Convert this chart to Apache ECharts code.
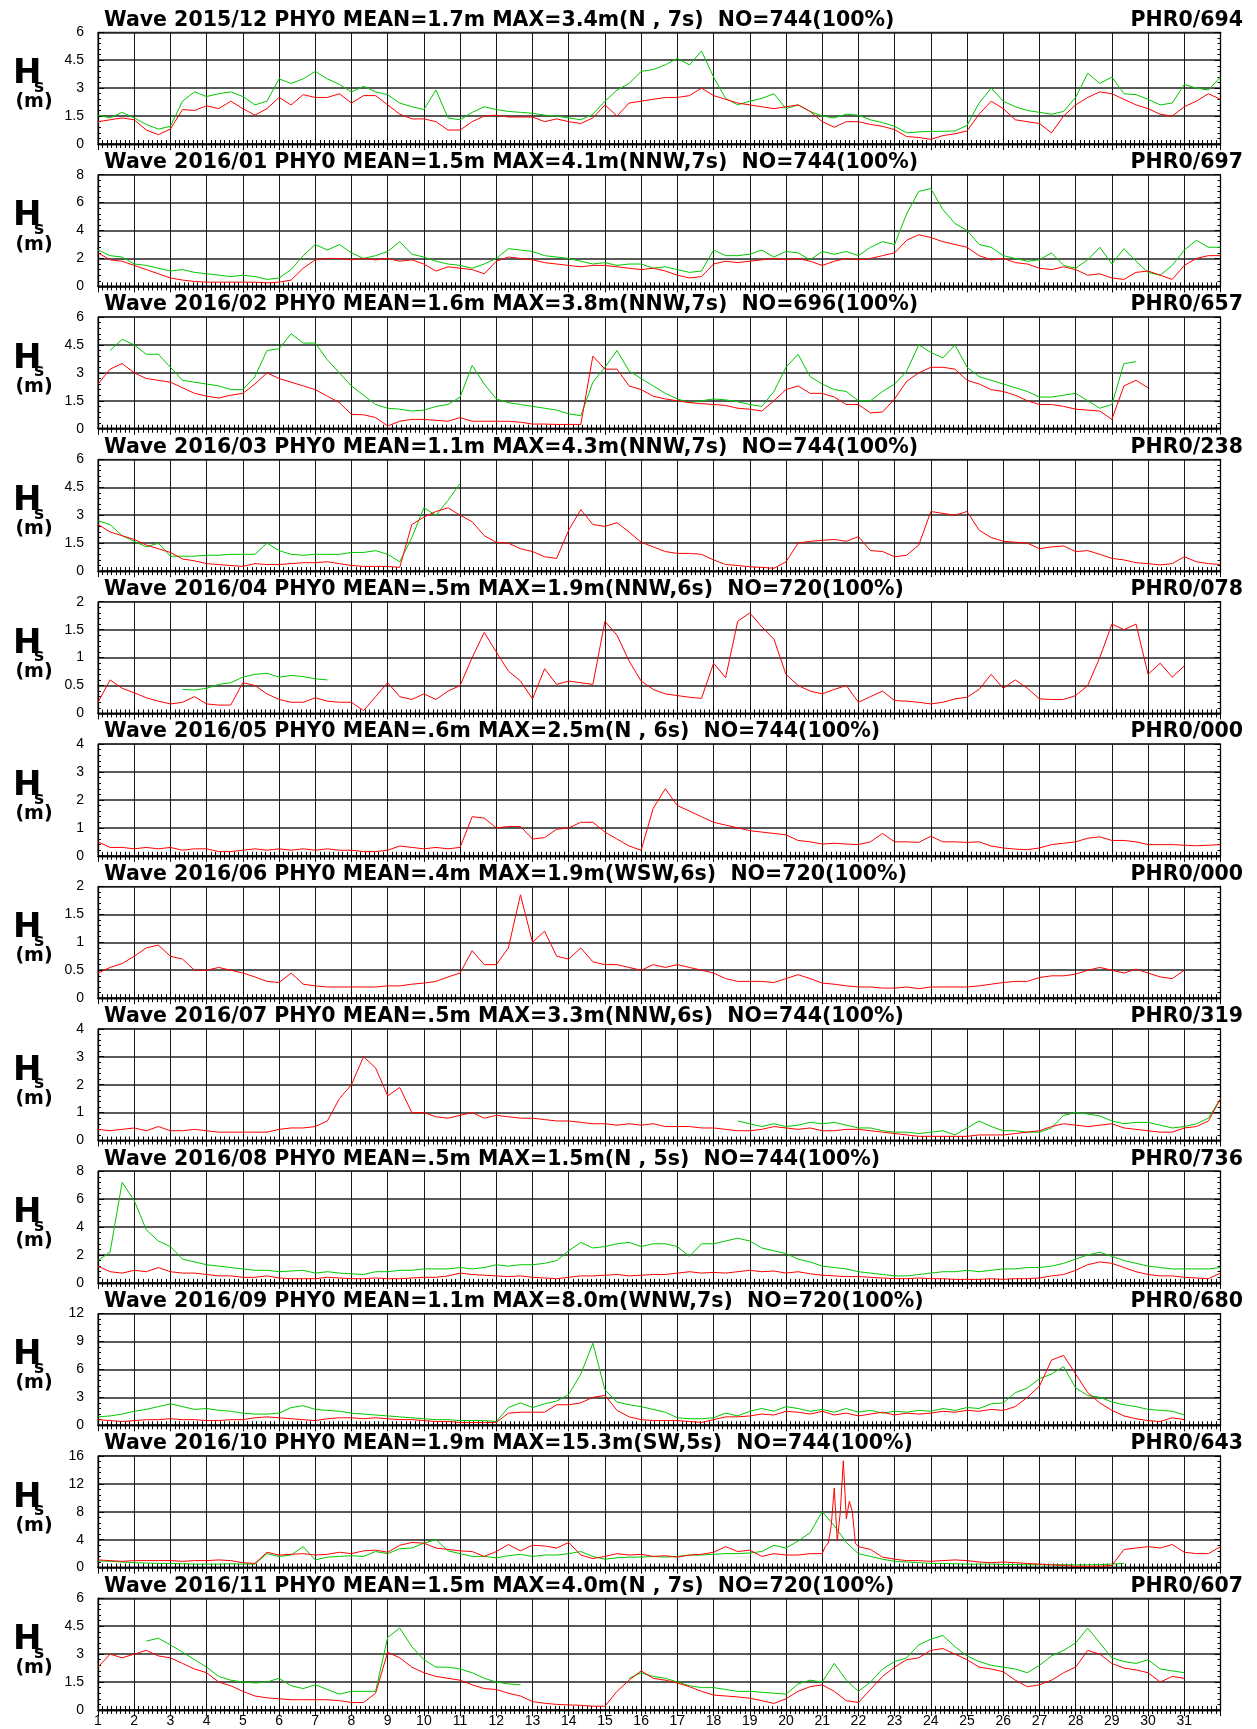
<!DOCTYPE html>
<html><head><meta charset="utf-8">
<script src="https://cdn.jsdelivr.net/npm/echarts@6/dist/echarts.min.js"></script>
<style>html,body{margin:0;padding:0;background:#fff}#c{width:1257px;height:1729px}</style>
</head><body><div id="c"></div>
<script>
// ---------- labels ----------
const titleTexts = [
 'Wave 2015/12 PHY0 MEAN=1.7m MAX=3.4m(N , 7s)  NO=744(100%)',
 'Wave 2016/01 PHY0 MEAN=1.5m MAX=4.1m(NNW,7s)  NO=744(100%)',
 'Wave 2016/02 PHY0 MEAN=1.6m MAX=3.8m(NNW,7s)  NO=696(100%)',
 'Wave 2016/03 PHY0 MEAN=1.1m MAX=4.3m(NNW,7s)  NO=744(100%)',
 'Wave 2016/04 PHY0 MEAN=.5m MAX=1.9m(NNW,6s)  NO=720(100%)',
 'Wave 2016/05 PHY0 MEAN=.6m MAX=2.5m(N , 6s)  NO=744(100%)',
 'Wave 2016/06 PHY0 MEAN=.4m MAX=1.9m(WSW,6s)  NO=720(100%)',
 'Wave 2016/07 PHY0 MEAN=.5m MAX=3.3m(NNW,6s)  NO=744(100%)',
 'Wave 2016/08 PHY0 MEAN=.5m MAX=1.5m(N , 5s)  NO=744(100%)',
 'Wave 2016/09 PHY0 MEAN=1.1m MAX=8.0m(WNW,7s)  NO=720(100%)',
 'Wave 2016/10 PHY0 MEAN=1.9m MAX=15.3m(SW,5s)  NO=744(100%)',
 'Wave 2016/11 PHY0 MEAN=1.5m MAX=4.0m(N , 7s)  NO=720(100%)'
];
const codeTexts = ['PHR0/694','PHR0/697','PHR0/657','PHR0/238','PHR0/078','PHR0/000','PHR0/000','PHR0/319','PHR0/736','PHR0/680','PHR0/643','PHR0/607'];
const yMax  = [6, 8, 6, 6, 2, 4, 2, 4, 8, 12, 16, 6];
const yStep = [1.5, 2, 1.5, 1.5, 0.5, 1, 0.5, 1, 2, 3, 4, 1.5];
const dayMin = 1, dayMax = 32;

// ---------- data: values every 8 hours, from day "start" ----------
const r1512 = [1.2,1.3,1.4, 1.3,0.75,0.5, 0.8,1.85,1.8, 2.05,1.9,2.3, 1.9,1.55,1.9,
 2.5,2.1,2.65, 2.5,2.5,2.7, 2.2,2.6,2.6, 2.1,1.6,1.35, 1.35,1.2,0.75,
 0.75,1.2,1.5, 1.55,1.45,1.45, 1.45,1.2,1.35, 1.2,1.1,1.4, 2.1,1.5,2.2,
 2.3,2.4,2.5, 2.5,2.6,3.0, 2.6,2.4,2.2, 2.1,2.0,1.9, 2.0,2.1,1.75,
 1.2,0.9,1.2, 1.2,1.05,0.95, 0.77,0.4,0.35, 0.25,0.45,0.55, 0.7,1.6,2.3,
 1.9,1.3,1.2, 1.1,0.6,1.5, 2.1,2.5,2.8, 2.7,2.4,2.1, 1.9,1.6,1.5,
 2.0,2.3,2.7, 2.4];
const g1512 = [1.55,1.4,1.7, 1.4,1.05,0.8, 0.95,2.3,2.8, 2.55,2.7,2.8, 2.55,2.1,2.3,
 3.5,3.25,3.5, 3.9,3.5,3.2, 2.8,3.1,2.8, 2.65,2.2,2.0, 1.85,2.9,1.4,
 1.3,1.7,2.0, 1.85,1.75,1.7, 1.65,1.55,1.5, 1.4,1.3,1.6, 2.3,2.9,3.25,
 3.9,4.0,4.25, 4.6,4.25,5.0, 3.6,2.45,2.1, 2.3,2.45,2.7, 1.9,2.1,1.75,
 1.5,1.4,1.6, 1.55,1.3,1.15, 0.95,0.6,0.65, 0.68,0.68,0.7, 1.0,2.2,3.0,
 2.3,2.0,1.8, 1.7,1.6,1.75, 2.5,3.8,3.25, 3.6,2.7,2.65, 2.4,2.1,2.2,
 3.2,3.0,2.9, 3.6];

const r1601 = [2.4,1.9,1.8, 1.5,1.2,0.9, 0.6,0.45,0.35, 0.3,0.3,0.3, 0.3,0.3,0.25,
 0.3,0.45,1.3, 1.9,2.0,2.0, 1.9,2.0,1.9, 2.0,1.8,1.9, 1.6,1.1,1.4,
 1.3,1.2,0.9, 1.8,2.1,2.0, 1.9,1.7,1.6, 1.5,1.4,1.5, 1.5,1.4,1.3,
 1.2,1.3,1.1, 0.8,0.6,0.7, 1.6,1.8,1.7, 1.8,1.9,2.0, 1.9,2.0,1.8,
 1.5,1.8,2.0, 1.9,2.0,2.2, 2.4,3.3,3.7, 3.5,3.2,3.0, 2.8,2.2,1.9,
 2.0,1.7,1.6, 1.3,1.2,1.4, 1.2,0.8,0.9, 0.6,0.5,1.0, 1.1,0.8,0.5,
 1.5,2.0,2.2, 2.2];
const g1601 = [2.6,2.2,2.1, 1.6,1.5,1.3, 1.1,1.2,1.0, 0.9,0.8,0.7, 0.8,0.7,0.5,
 0.6,1.2,2.2, 3.0,2.6,3.0, 2.4,2.0,2.2, 2.5,3.2,2.3, 2.1,1.8,1.6,
 1.5,1.3,1.6, 2.0,2.7,2.6, 2.5,2.2,2.1, 2.0,1.8,1.6, 1.7,1.5,1.6,
 1.6,1.3,1.4, 1.2,1.0,1.1, 2.6,2.2,2.2, 2.3,2.6,2.1, 2.5,2.4,1.9,
 2.5,2.3,2.5, 2.2,2.8,3.2, 3.0,5.2,6.8, 7.0,5.5,4.5, 4.0,3.0,2.8,
 2.2,2.0,1.8, 1.9,2.4,1.5, 1.3,1.9,2.8, 1.6,2.7,1.8, 1.0,0.8,1.5,
 2.6,3.3,2.8, 2.8];

const r1602 = [2.4,3.2,3.5, 3.0,2.7,2.6, 2.5,2.2,1.9, 1.75,1.65,1.8, 1.9,2.4,3.0,
 2.7,2.5,2.3, 2.1,1.75,1.4, 0.77,0.75,0.6, 0.15,0.4,0.5, 0.5,0.45,0.4,
 0.6,0.4,0.4, 0.4,0.4,0.35, 0.25,0.25,0.23, 0.23,0.23,3.9, 3.2,3.2,2.3,
 2.1,1.75,1.6, 1.5,1.4,1.35, 1.3,1.25,1.1, 1.05,0.95,1.5, 2.1,2.3,1.9,
 1.9,1.7,1.3, 1.3,0.85,0.9, 1.6,2.55,3.0, 3.3,3.3,3.2, 2.6,2.4,2.1,
 2.0,1.8,1.5, 1.3,1.3,1.2, 1.05,1.0,0.95, 0.5,2.3,2.6, 2.2];
const g1602 = [null,4.2,4.8, 4.5,4.0,4.0, 3.3,2.6,2.5, 2.4,2.3,2.1, 2.1,2.8,4.2,
 4.3,5.1,4.6, 4.6,3.7,3.0, 2.3,1.8,1.3, 1.1,1.05,0.95, 1.0,1.2,1.3,
 1.7,3.4,2.4, 1.6,1.4,1.3, 1.2,1.1,1.0, 0.8,0.7,2.5, 3.3,4.2,3.1,
 2.7,2.3,1.9, 1.6,1.4,1.5, 1.6,1.55,1.45, 1.3,1.2,2.0, 3.3,4.0,2.8,
 2.4,2.1,2.0, 1.5,1.5,2.0, 2.4,3.1,4.5, 4.1,3.8,4.5, 3.3,2.8,2.6,
 2.4,2.2,2.0, 1.7,1.7,1.8, 1.9,1.5,1.1, 1.3,3.5,3.6];

const r1603 = [2.5,2.1,1.9, 1.7,1.4,1.2, 1.0,0.65,0.55, 0.4,0.35,0.3, 0.25,0.4,0.35,
 0.35,0.4,0.45, 0.45,0.5,0.4, 0.3,0.25,0.25, 0.25,0.2,2.5, 2.9,3.2,3.4,
 3.0,2.65,1.9, 1.55,1.5,1.2, 1.05,0.77,0.68, 2.2,3.3,2.5, 2.4,2.6,2.1,
 1.55,1.3,1.05, 0.95,0.95,0.9, 0.6,0.35,0.3, 0.23,0.2,0.15, 0.5,1.5,1.6,
 1.65,1.7,1.6, 1.85,1.1,1.05, 0.77,0.85,1.4, 3.2,3.1,3.0, 3.2,2.2,1.8,
 1.6,1.55,1.5, 1.2,1.3,1.35, 1.05,1.1,0.9, 0.68,0.6,0.45, 0.4,0.33,0.4,
 0.77,0.5,0.4, 0.35];
const g1603 = [2.7,2.5,1.9, 1.6,1.3,1.5, 0.8,0.8,0.8, 0.85,0.85,0.9, 0.9,0.9,1.5,
 1.1,0.9,0.85, 0.9,0.9,0.9, 1.0,1.0,1.1, 0.9,0.5,1.8, 3.4,3.0,3.8,
 4.7];

const r1604 = [0.2,0.6,0.45, 0.37,0.28,0.22, 0.17,0.2,0.3, 0.17,0.15,0.15, 0.55,0.5,0.35,
 0.25,0.2,0.2, 0.28,0.22,0.2, 0.2,0.05,0.3, 0.55,0.3,0.25, 0.35,0.25,0.4,
 0.5,1.0,1.45, 1.1,0.76,0.58, 0.26,0.8,0.52, 0.58,0.55,0.52, 1.65,1.4,0.94,
 0.58,0.43,0.35, 0.32,0.29,0.27, 0.9,0.64,1.65, 1.8,1.55,1.33, 0.7,0.5,0.4,
 0.35,0.43,0.5, 0.2,0.3,0.4, 0.23,0.22,0.2, 0.17,0.2,0.26, 0.29,0.43,0.7,
 0.45,0.6,0.45, 0.26,0.25,0.25, 0.32,0.5,1.0, 1.6,1.5,1.6, 0.7,0.9,0.65,
 0.85];
const g1604 = [0.43,0.42, 0.45,0.52,0.55, 0.65,0.7,0.72, 0.65,0.68,0.66, 0.62,0.6];

const r1605 = [0.5,0.3,0.3, 0.25,0.3,0.25, 0.3,0.2,0.25, 0.25,0.15,0.15, 0.2,0.25,0.2,
 0.25,0.2,0.25, 0.2,0.25,0.2, 0.2,0.15,0.15, 0.2,0.35,0.3, 0.25,0.3,0.25,
 0.3,1.4,1.35, 1.0,1.05,1.05, 0.6,0.65,0.95, 1.0,1.2,1.2, 0.85,0.6,0.35,
 0.2,1.7,2.4, 1.8,1.6,1.4, 1.2,1.1,1.0, 0.9,0.85,0.8, 0.75,0.55,0.5,
 0.42,0.45,0.42, 0.4,0.5,0.8, 0.5,0.5,0.48, 0.7,0.5,0.5, 0.48,0.5,0.35,
 0.28,0.24,0.22, 0.28,0.4,0.45, 0.5,0.63,0.68, 0.55,0.55,0.5, 0.4,0.4,0.4,
 0.38,0.36,0.38, 0.4];

const r1606 = [0.45,0.55,0.62, 0.75,0.9,0.95, 0.75,0.7,0.5, 0.5,0.55,0.5, 0.45,0.38,0.3,
 0.28,0.45,0.25, 0.22,0.2,0.2, 0.2,0.2,0.2, 0.22,0.22,0.25, 0.27,0.3,0.38,
 0.45,0.85,0.6, 0.6,0.9,1.85, 1.0,1.2,0.75, 0.7,0.9,0.65, 0.6,0.6,0.55,
 0.5,0.6,0.55, 0.6,0.55,0.5, 0.45,0.35,0.3, 0.3,0.3,0.28, 0.35,0.42,0.35,
 0.27,0.25,0.22, 0.2,0.2,0.18, 0.18,0.2,0.17, 0.2,0.2,0.2, 0.2,0.22,0.25,
 0.28,0.3,0.3, 0.37,0.4,0.4, 0.43,0.5,0.55, 0.5,0.45,0.52, 0.45,0.38,0.35,
 0.5];

const r1607 = [0.4,0.35,0.4, 0.45,0.35,0.5, 0.35,0.35,0.4, 0.35,0.3,0.3, 0.3,0.3,0.3,
 0.4,0.45,0.45, 0.5,0.7,1.5, 2.0,3.0,2.6, 1.6,1.9,1.0, 1.0,0.85,0.8,
 0.9,1.0,0.8, 0.9,0.85,0.8, 0.8,0.75,0.7, 0.7,0.65,0.6, 0.6,0.55,0.6,
 0.55,0.6,0.5, 0.5,0.5,0.45, 0.45,0.4,0.35, 0.35,0.4,0.5, 0.45,0.4,0.45,
 0.35,0.35,0.4, 0.4,0.35,0.3, 0.25,0.2,0.15, 0.15,0.15,0.15, 0.15,0.2,0.2,
 0.2,0.25,0.3, 0.35,0.5,0.6, 0.55,0.5,0.55, 0.6,0.45,0.4, 0.35,0.3,0.3,
 0.45,0.5,0.7, 1.5];
const g1607 = [0.7, 0.6,0.5,0.6, 0.5,0.55,0.65, 0.6,0.65,0.55, 0.45,0.45,0.35, 0.3,0.3,0.25,
 0.3,0.35,0.2, 0.45,0.7,0.5, 0.35,0.35,0.3, 0.3,0.45,0.9, 1.0,0.95,0.88,
 0.7,0.6,0.65, 0.65,0.55,0.45, 0.5,0.6,0.8, 1.5];

const r1608 = [1.2,0.8,0.7, 0.9,0.8,1.1, 0.8,0.7,0.7, 0.6,0.5,0.5, 0.4,0.4,0.5,
 0.35,0.3,0.3, 0.3,0.4,0.35, 0.3,0.3,0.35, 0.3,0.3,0.35, 0.4,0.4,0.5,
 0.7,0.6,0.55, 0.5,0.45,0.5, 0.4,0.35,0.3, 0.4,0.5,0.5, 0.55,0.6,0.5,
 0.55,0.6,0.6, 0.7,0.8,0.7, 0.75,0.7,0.8, 0.9,0.8,0.85, 0.7,0.8,0.65,
 0.55,0.5,0.45, 0.45,0.4,0.35, 0.3,0.3,0.35, 0.3,0.3,0.25, 0.25,0.25,0.3,
 0.25,0.3,0.3, 0.35,0.5,0.6, 0.9,1.3,1.5, 1.4,1.1,0.8, 0.6,0.5,0.5,
 0.4,0.35,0.3, 0.7];
const g1608 = [1.6,2.2,7.2, 5.9,3.8,3.0, 2.6,1.7,1.5, 1.3,1.2,1.1, 1.0,0.9,0.9,
 0.8,0.85,0.9, 0.7,0.8,0.7, 0.65,0.6,0.8, 0.8,0.9,0.9, 1.0,1.0,1.0,
 1.1,1.0,1.1, 1.3,1.2,1.3, 1.3,1.4,1.6, 2.3,2.9,2.5, 2.6,2.8,2.9,
 2.6,2.8,2.8, 2.6,1.9,2.8, 2.8,3.0,3.2, 3.0,2.5,2.3, 2.1,1.7,1.5,
 1.2,1.1,1.0, 0.8,0.7,0.6, 0.5,0.5,0.6, 0.7,0.8,0.8, 0.9,0.8,0.9,
 1.0,1.0,1.1, 1.1,1.2,1.4, 1.7,2.0,2.2, 1.9,1.6,1.4, 1.2,1.1,1.0,
 1.0,1.0,1.0, 1.1];

const r1609 = [0.6,0.5,0.4, 0.5,0.6,0.6, 0.7,0.6,0.6, 0.5,0.5,0.6, 0.6,0.8,0.9,
 0.8,0.7,0.6, 0.5,0.7,0.8, 0.8,0.7,0.8, 0.7,0.6,0.6, 0.5,0.4,0.4,
 0.3,0.3,0.3, 0.3,1.3,1.4, 1.4,1.4,2.2, 2.2,2.4,3.0, 3.2,1.6,0.9,
 0.6,0.5,0.5, 0.5,0.4,0.3, 0.6,0.9,0.9, 1.0,1.2,1.1, 1.5,1.4,1.2,
 1.5,1.1,1.3, 1.0,1.2,1.4, 1.1,1.3,1.2, 1.3,1.5,1.4, 1.6,1.5,1.7,
 1.6,2.0,3.0, 4.2,7.0,7.5, 5.5,3.5,2.4, 1.6,1.0,0.7, 0.5,0.4,0.8,
 0.6];
const g1609 = [0.9,1.0,1.2, 1.5,1.7,2.0, 2.3,2.0,1.7, 1.8,1.6,1.5, 1.3,1.2,1.2,
 1.3,1.9,2.1, 1.7,1.6,1.5, 1.3,1.2,1.1, 1.0,0.9,0.8, 0.7,0.6,0.6,
 0.5,0.5,0.5, 0.4,1.9,2.4, 1.9,2.3,2.6, 3.3,5.5,8.8, 3.8,2.5,2.2,
 2.0,1.7,1.4, 0.8,0.7,0.7, 0.8,1.3,1.0, 1.5,1.8,1.5, 2.0,1.8,1.5,
 1.7,1.4,1.8, 1.4,1.6,1.3, 1.5,1.4,1.6, 1.5,1.8,1.6, 1.9,1.8,2.3,
 2.4,3.5,4.0, 5.0,5.5,6.3, 4.0,3.2,3.0, 2.5,2.2,2.0, 1.7,1.6,1.5,
 1.1];

const r1610 = [1.1,1.0,0.9, 1.0,1.0,1.0, 1.0,0.9,1.0, 1.0,1.1,1.0, 0.7,0.6,2.2,
 1.8,1.9,2.0, 1.8,1.9,2.2, 2.0,2.4,2.5, 2.2,3.2,3.6, 3.5,2.8,2.6,
 2.4,2.3,1.6, 2.3,3.3,2.4, 3.2,3.1,2.8, 3.6,1.8,1.3, 1.6,2.0,1.8,
 1.9,1.6,1.7, 1.5,1.8,1.9, 2.2,3.0,2.3, 2.5,1.6,2.0, 1.8,1.8,2.0,
 2.0,9.0,8.0, 3.0,2.6,1.5, 1.2,1.0,1.0, 0.9,1.0,1.1, 1.0,0.8,0.7,
 0.8,0.7,0.6, 0.5,0.4,0.3, 0.2,0.2,0.2, 0.3,2.6,2.8, 3.0,2.8,3.3,
 2.2,2.0,2.0, 3.0];
// 2-hourly detail of the storm on day 21
const r1610Peak = [2.0,3.0,3.5,6.0,11.4,3.8,8.0,15.3,7.0,9.5,8.0,3.5];
const g1610 = [0.95,0.9,0.8, 0.7,0.65,0.6, 0.6,0.55,0.5, 0.5,0.5,0.55, 0.5,0.5,2.0,
 1.6,1.8,3.0, 1.1,1.5,1.6, 1.7,1.6,2.3, 2.0,2.7,2.8, 3.5,4.0,2.4,
 2.0,1.6,1.6, 1.4,1.7,1.9, 1.6,1.8,1.8, 2.0,2.3,1.6, 1.2,1.4,1.5,
 1.5,1.6,1.5, 1.6,1.8,1.8, 1.9,2.0,2.0, 2.1,2.3,3.2, 2.8,3.8,5.0,
 8.0,6.0,3.6, 2.0,1.6,1.2, 0.9,0.8,0.7, 0.6,0.6,0.55, 0.5,0.5,0.5,
 0.45,0.45,0.4, 0.4,0.4,0.4, 0.4,0.4,0.45, 0.5,0.6];

const r1611 = [2.3,3.0,2.8, 3.0,3.2,2.9, 2.8,2.5,2.2, 2.0,1.5,1.3, 1.0,0.75,0.65,
 0.6,0.55,0.55, 0.55,0.55,0.5, 0.4,0.4,0.9, 3.1,2.8,2.3, 2.0,1.8,1.7,
 1.6,1.35,1.15, 1.1,0.9,0.75, 0.45,0.36,0.3, 0.27,0.25,0.2, 0.2,1.0,1.6,
 2.1,1.7,1.6, 1.45,1.25,1.0, 0.8,0.75,0.7, 0.63,0.5,0.35, 0.6,1.0,1.25,
 1.35,1.0,0.5, 0.4,1.1,1.8, 2.3,2.7,2.8, 3.2,3.3,3.0, 2.7,2.3,2.2,
 2.05,1.6,1.25, 1.35,1.6,2.0, 2.3,3.2,3.0, 2.5,2.25,2.15, 2.0,1.5,1.8,
 1.7];
const g1611 = [3.7,3.85, 3.5,3.1,2.7, 2.3,1.8,1.6, 1.5,1.45,1.5,
 1.7,1.3,1.15, 1.35,1.1,0.85, 1.0,1.0,1.0, 3.9,4.4,3.4, 2.7,2.3,2.3,
 2.2,2.0,1.7, 1.5,1.4,1.35, null,null,null, null,null,null, null,null,1.7,
 2.0,1.8,1.7, 1.5,1.3,1.2, 1.2,1.1,1.0, 1.0,0.95,0.9, 0.85,1.4,1.6,
 1.5,2.5,1.6, 1.0,1.5,2.2, 2.6,2.8,3.5, 3.8,4.0,3.4, 2.9,2.6,2.4,
 2.3,2.2,2.0, 2.4,2.9,3.2, 3.6,4.4,3.6, 2.8,2.6,2.5, 2.7,2.2,2.1,
 2.0];

// which arrays belong to which panel (green start day, red start day)
const panels = [
 {green: g1512, gStart: 1, red: r1512},
 {green: g1601, gStart: 1, red: r1601},
 {green: g1602, gStart: 1, red: r1602},
 {green: g1603, gStart: 1, red: r1603},
 {green: g1604, gStart: 3 + 1/3, red: r1604},
 {green: null, gStart: 1, red: r1605},
 {green: null, gStart: 1, red: r1606},
 {green: g1607, gStart: 18 + 2/3, red: r1607},
 {green: g1608, gStart: 1, red: r1608},
 {green: g1609, gStart: 1, red: r1609},
 {green: g1610, gStart: 1, red: r1610, detail: {from: 21, step: 1/12, values: r1610Peak}},
 {green: g1611, gStart: 2 + 1/3, red: r1611}
];

function toPoints(vals, start, detail) {
  let pts = vals.map((v, i) => [start + i / 3, v]);
  if (detail) {
    const end = detail.from + detail.values.length * detail.step;
    pts = pts.filter(p => p[0] < detail.from - 1e-6 || p[0] > end - 1e-6);
    detail.values.forEach((v, k) => pts.push([detail.from + k * detail.step, v]));
    pts.sort((a, b) => a[0] - b[0]);
  }
  return pts.map(p => [p[0], p[1] === null ? '-' : p[1]]);
}

// ---------- layout ----------
const TOP0 = 32.3, PITCH = 142.36, PH = 111.7, GL = 98, GR = 36.5;
const RED = '#ff0000', GREEN = '#00c800';
const grids = [], xAxes = [], yAxes = [], series = [], graphics = [];
const axLine = {show: true, lineStyle: {color: '#000', width: 1.3}};
const tickIn = {show: true, inside: true, length: 6, lineStyle: {color: '#000', width: 1}};

for (let i = 0; i < 12; i++) {
  const top = TOP0 + PITCH * i;
  grids.push({left: GL, right: GR, top: top, height: PH, show: true, borderColor: '#000', borderWidth: 1, containLabel: false});
  xAxes.push({gridIndex: i, type: 'value', position: 'bottom', min: dayMin, max: dayMax, interval: 1,
    axisLine: axLine, axisTick: tickIn,
    minorTick: {show: true, splitNumber: 8, length: 4, lineStyle: {color: '#000', width: 1}},
    splitLine: {show: true, lineStyle: {color: '#1a1a1a', width: 1}},
    axisLabel: {show: i === 11, margin: 4, fontSize: 14, fontFamily: '"Liberation Sans", Arial, sans-serif', color: '#000',
      formatter: v => (v === dayMax ? '' : String(v))}});
  xAxes.push({gridIndex: i, type: 'value', position: 'top', min: dayMin, max: dayMax, interval: 1,
    axisLine: axLine, axisTick: tickIn,
    minorTick: {show: true, splitNumber: 8, length: 4, lineStyle: {color: '#000', width: 1}},
    splitLine: {show: false}, axisLabel: {show: false}});
  yAxes.push({gridIndex: i, type: 'value', position: 'left', min: 0, max: yMax[i], interval: yStep[i],
    axisLine: axLine, axisTick: tickIn,
    minorTick: {show: true, splitNumber: 5, length: 3, lineStyle: {color: '#000', width: 1}},
    splitLine: {show: true, lineStyle: {color: '#222', width: 1.6}},
    axisLabel: {margin: 14, fontSize: 14, fontFamily: '"Liberation Sans", Arial, sans-serif', color: '#000'}});
  yAxes.push({gridIndex: i, type: 'value', position: 'right', min: 0, max: yMax[i], interval: yStep[i],
    axisLine: axLine, axisTick: tickIn,
    minorTick: {show: true, splitNumber: 5, length: 3, lineStyle: {color: '#000', width: 1}},
    splitLine: {show: false}, axisLabel: {show: false}});

  const p = panels[i];
  if (p.green) {
    series.push({type: 'line', xAxisIndex: 2 * i, yAxisIndex: 2 * i, data: toPoints(p.green, p.gStart),
      showSymbol: false, symbol: 'none', connectNulls: false, silent: true, z: 2,
      lineStyle: {color: GREEN, width: 1}, itemStyle: {color: GREEN}});
  }
  series.push({type: 'line', xAxisIndex: 2 * i, yAxisIndex: 2 * i, data: toPoints(p.red, 1, p.detail),
    showSymbol: false, symbol: 'none', connectNulls: false, silent: true, z: 3,
    lineStyle: {color: RED, width: 1}, itemStyle: {color: RED}});

  const tfont = 'bold 20.5px "DejaVu Sans", sans-serif';
  graphics.push({type: 'text', x: 104, y: top - 12, silent: true,
    style: {text: titleTexts[i], font: tfont, fill: '#000', align: 'left', verticalAlign: 'middle', textAlign: 'left', textVerticalAlign: 'middle'}});
  graphics.push({type: 'text', x: 1243, y: top - 12, silent: true,
    style: {text: codeTexts[i], font: tfont, fill: '#000', align: 'right', verticalAlign: 'middle', textAlign: 'right', textVerticalAlign: 'middle'}});
  graphics.push({type: 'text', x: 13, y: top + 42, silent: true,
    style: {text: 'H', font: 'bold 34px "DejaVu Sans", sans-serif', fill: '#000', align: 'left', verticalAlign: 'middle', textAlign: 'left', textVerticalAlign: 'middle'}});
  graphics.push({type: 'text', x: 34, y: top + 55, silent: true,
    style: {text: 's', font: 'bold 17px "DejaVu Sans", sans-serif', fill: '#000', align: 'left', verticalAlign: 'middle', textAlign: 'left', textVerticalAlign: 'middle'}});
  graphics.push({type: 'text', x: 34, y: top + 70, silent: true,
    style: {text: '(m)', font: 'bold 19px "DejaVu Sans", sans-serif', fill: '#000', align: 'center', verticalAlign: 'middle', textAlign: 'center', textVerticalAlign: 'middle'}});
}

const chart = echarts.init(document.getElementById('c'), null, {renderer: 'canvas'});
chart.setOption({
  animation: false,
  backgroundColor: '#fff',
  grid: grids, xAxis: xAxes, yAxis: yAxes, series: series,
  graphic: {elements: graphics}
});
</script></body></html>
